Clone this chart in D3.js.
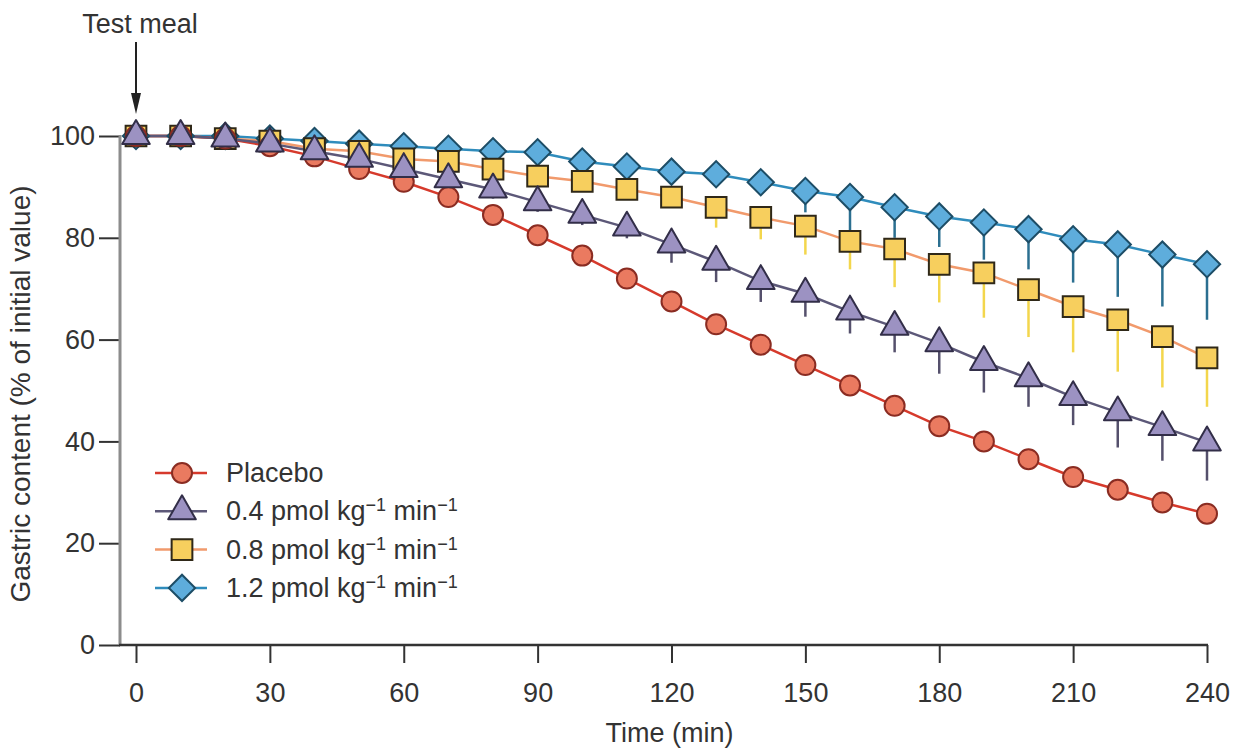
<!DOCTYPE html>
<html>
<head>
<meta charset="utf-8">
<script src="https://cdn.jsdelivr.net/npm/d3@7"></script>
<style>
  html, body { margin: 0; padding: 0; background: #fff; }
  svg { display: block; }
  text { font-family: "Liberation Sans", Arial, sans-serif; fill: #333; }
</style>
</head>
<body>
<svg id="chart" width="1240" height="751"></svg>
<script>
// Time points (min)
const times = [0, 10, 20, 30, 40, 50, 60, 70, 80, 90, 100, 110, 120, 130, 140, 150, 160, 170, 180, 190, 200, 210, 220, 230, 240];
const xTicks = [0, 30, 60, 90, 120, 150, 180, 210, 240];
const yTicks = [0, 20, 40, 60, 80, 100];

// Gastric content, % of initial value (mean)
const placebo = [100, 100, 99.5, 98, 96, 93.5, 91, 88, 84.5, 80.5, 76.5, 72, 67.5, 63, 59, 55, 51, 47, 43, 40, 36.5, 33, 30.5, 28, 25.8];
const dose04  = [100, 100, 99.5, 98.5, 97, 95.5, 93.5, 91.5, 89.5, 87, 84.5, 82, 78.7, 75.3, 71.5, 69, 65.5, 62.5, 59.3, 55.6, 52.4, 48.7, 45.7, 42.8, 39.8];
const dose08  = [100, 100, 99.5, 99, 97.5, 97, 95.5, 95, 93.5, 92.1, 91.1, 89.5, 88, 86, 84, 82.3, 79.3, 77.8, 74.8, 73.1, 69.8, 66.5, 63.9, 60.6, 56.4];
const dose12  = [100, 100, 100, 99.5, 99, 98.5, 98, 97.5, 97, 96.8, 95, 94, 93, 92.5, 90.9, 89.2, 88, 86, 84.2, 83, 81.7, 79.7, 78.7, 76.7, 74.8];

// Standard errors (drawn downward)
const placeboSE = [0.3, 0.3, 0.4, 0.5, 0.6, 0.7, 0.8, 0.9, 1, 1, 1.1, 1.1, 1.2, 1.2, 1.3, 1.3, 1.4, 1.4, 1.4, 1.5, 1.5, 1.5, 1.5, 1.5, 1.5];
const dose04SE  = [0.3, 0.3, 0.5, 0.8, 1, 1.2, 1.5, 1.7, 1.8, 1.9, 2, 2.1, 3.6, 4, 4.1, 4.5, 4.3, 5, 6, 6, 5.6, 5.5, 6.9, 6.6, 7.5];
const dose08SE  = [0.3, 0.3, 0.4, 0.6, 0.8, 1, 1.2, 1.4, 1.6, 1.8, 1.9, 2, 2.1, 4, 4.3, 5.6, 5.5, 7.5, 7.5, 8.8, 9.3, 9, 10.2, 10, 9.6];
const dose12SE  = [0.3, 0.3, 0.4, 0.5, 0.6, 0.8, 1, 1.2, 1.4, 1.6, 1.8, 2, 2.2, 2.3, 2.4, 4.2, 6.5, 6, 6, 7.3, 7.9, 8.5, 10.3, 10.2, 10.9];

const svg = d3.select("#chart");

const x = d3.scaleLinear().domain([0, 240]).range([136, 1207]);
const y = d3.scaleLinear().domain([0, 100]).range([645, 136]);

const TRI = d3.symbol(d3.symbolTriangle, 330)();
const SQR = d3.symbol(d3.symbolSquare, 430)();
const DIA = d3.symbol(d3.symbolSquare, 345)();

const series = [
  { key: "1.2", values: dose12, se: dose12SE, line: "#2f8cbc", bar: "#2b6f90",
    shape: "diamond", fill: "#5eaddc", stroke: "#1d4d66" },
  { key: "0.8", values: dose08, se: dose08SE, line: "#f19a6c", bar: "#f3d64c",
    shape: "square", fill: "#f7cf5e", stroke: "#2f2818" },
  { key: "Placebo", values: placebo, se: placeboSE, line: "#d63a2c", bar: "#a8382c",
    shape: "circle", fill: "#ea7a60", stroke: "#8a2c22" },
  { key: "0.4", values: dose04, se: dose04SE, line: "#5c5878", bar: "#55506c",
    shape: "triangle", fill: "#9c92c2", stroke: "#322e48" }
];

function drawMarker(g, s) {
  if (s.shape === "circle") {
    g.append("circle").attr("r", 10).attr("fill", s.fill).attr("stroke", s.stroke).attr("stroke-width", 2);
  } else if (s.shape === "triangle") {
    g.append("path").attr("d", TRI).attr("fill", s.fill).attr("stroke", s.stroke).attr("stroke-width", 2).attr("stroke-linejoin", "round");
  } else if (s.shape === "square") {
    g.append("path").attr("d", SQR).attr("fill", s.fill).attr("stroke", s.stroke).attr("stroke-width", 2);
  } else {
    g.append("path").attr("d", DIA).attr("transform", "rotate(45)").attr("fill", s.fill).attr("stroke", s.stroke).attr("stroke-width", 2);
  }
}

// Error bars
const barsG = svg.append("g");
series.forEach(s => {
  barsG.selectAll(null).data(times).enter().append("line")
    .attr("x1", (t) => x(t)).attr("x2", (t) => x(t))
    .attr("y1", (t, i) => y(s.values[i]))
    .attr("y2", (t, i) => y(s.values[i] - s.se[i]))
    .attr("stroke", s.bar).attr("stroke-width", 2.5);
});

// Axes
const yAxis = d3.axisLeft(y).tickValues(yTicks).tickSize(21).tickPadding(4).tickSizeOuter(0);
const yg = svg.append("g").attr("transform", "translate(120,0)").call(yAxis);
yg.select(".domain").remove();
yg.selectAll(".tick line").attr("stroke", "#333").attr("stroke-width", 2);
yg.selectAll(".tick text").style("font-size", "27px").attr("fill", "#333").attr("font-family", "Liberation Sans, Arial, sans-serif");
svg.append("line").attr("x1", 120).attr("x2", 120).attr("y1", y(100) - 1).attr("y2", y(0))
  .attr("stroke", "#8c8c8c").attr("stroke-width", 3);

const xAxis = d3.axisBottom(x).tickValues(xTicks).tickSize(18).tickPadding(20).tickSizeOuter(0);
const xg = svg.append("g").attr("transform", `translate(0,${y(0)})`).call(xAxis);
xg.select(".domain").remove();
xg.selectAll(".tick line").attr("stroke", "#333").attr("stroke-width", 2);
xg.selectAll(".tick text").style("font-size", "27px").attr("fill", "#333").attr("font-family", "Liberation Sans, Arial, sans-serif");
svg.append("line").attr("x1", 119).attr("x2", x(240) + 1).attr("y1", y(0)).attr("y2", y(0))
  .attr("stroke", "#333").attr("stroke-width", 2.5);

// Lines
const lineGen = d3.line().x((d) => x(d[0])).y((d) => y(d[1]));
series.forEach(s => {
  svg.append("path")
    .datum(times.map((t, i) => [t, s.values[i]]))
    .attr("d", lineGen)
    .attr("fill", "none").attr("stroke", s.line).attr("stroke-width", 2.5);
});

// Markers
series.forEach(s => {
  times.forEach((t, i) => {
    const g = svg.append("g").attr("transform", `translate(${x(t)},${y(s.values[i])})`);
    drawMarker(g, s);
  });
});

// Axis titles
svg.append("text").attr("x", (x(0) + x(240)) / 2 - 2).attr("y", 742)
  .attr("text-anchor", "middle").style("font-size", "27px").text("Time (min)");
svg.append("text").attr("transform", "translate(30,394) rotate(-90)")
  .attr("text-anchor", "middle").style("font-size", "28px").text("Gastric content (% of initial value)");

// Test meal annotation
svg.append("text").attr("x", 140).attr("y", 33).attr("text-anchor", "middle")
  .style("font-size", "27px").text("Test meal");
svg.append("line").attr("x1", x(0)).attr("x2", x(0)).attr("y1", 42).attr("y2", 96)
  .attr("stroke", "#222").attr("stroke-width", 2);
svg.append("path")
  .attr("d", `M${x(0) - 5},93 L${x(0) + 5},93 L${x(0)},114 Z`)
  .attr("fill", "#222");

// Legend
const legendOrder = [series[2], series[3], series[1], series[0]];
const legendLabels = [
  ["Placebo"],
  ["0.4 pmol kg", "−1", " min", "−1"],
  ["0.8 pmol kg", "−1", " min", "−1"],
  ["1.2 pmol kg", "−1", " min", "−1"]
];
const legend = svg.append("g");
legendOrder.forEach((s, i) => {
  const row = legend.append("g").attr("transform", `translate(182,${473 + i * 38.3})`);
  row.append("line").attr("x1", -27).attr("x2", 25).attr("stroke", s.line).attr("stroke-width", 2.5);
  drawMarker(row, s);
  const txt = row.append("text").attr("x", 44).attr("y", 9).style("font-size", "27px");
  legendLabels[i].forEach((part, j) => {
    const ts = txt.append("tspan").text(part);
    if (j % 2 === 1) ts.attr("dy", -9).style("font-size", "18px");
    else if (j > 0) ts.attr("dy", 9);
  });
});
</script>
</body>
</html>
